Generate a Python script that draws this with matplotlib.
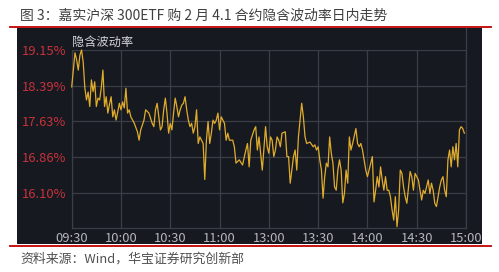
import matplotlib
matplotlib.use("Agg")
import matplotlib.pyplot as plt
from matplotlib.lines import Line2D

# ---- data ----
title_text = "图 3：嘉实沪深 300ETF 购 2 月 4.1 合约隐含波动率日内走势"
source_text = "资料来源：Wind，华宝证券研究创新部"
series_label = "隐含波动率"

tick_minutes = [0, 30, 60, 90, 120, 150, 180, 210, 240]
tick_labels = ["09:30", "10:00", "10:30", "11:00", "13:00", "13:30", "14:00", "14:30", "15:00"]
y_ticks = [19.15, 18.39, 17.63, 16.86, 16.10]

# trading minutes since 09:30 (lunch break removed)
minutes = [0, 1, 2, 3, 4, 5, 6, 7, 8, 9, 10, 11, 12, 13, 14, 15, 16, 17, 18, 19, 20,
           21, 22, 23, 24, 25, 26, 27, 28, 29, 30, 31, 32, 33, 34, 35, 36, 38, 40, 41,
           42, 44, 45,
           47, 49, 50, 51, 52, 53, 54, 55, 56, 57, 58, 59, 60, 61, 62, 63, 64, 65, 66,
           67, 68, 69, 70, 71, 72, 73, 74, 75, 76, 77, 78, 79, 80, 81, 82, 83, 84, 85,
           86, 87, 88, 89, 90, 91, 92, 93, 94, 95,
           96, 98, 99, 100, 102, 104, 106, 107, 108, 109, 111, 112, 113, 114, 115, 116,
           118, 119, 120, 121, 122, 123, 124, 125, 126, 127, 128, 130, 131, 132, 133,
           134, 135, 136, 137, 138, 139, 140, 141, 142,
           143, 145, 147, 148, 149, 150, 151, 152, 153, 154, 155, 156, 157, 158, 159,
           160, 161, 162, 163, 164, 165, 166, 167, 168, 169, 170, 171, 173, 174, 175,
           176, 177, 178, 179, 180, 181, 182, 183, 184, 185, 186, 187, 188, 189, 190,
           191, 192, 193, 194, 195, 196, 197, 198, 199, 200, 201, 202, 203, 204, 205,
           206, 207, 208, 209, 210, 211, 212, 213, 214, 215, 216, 217, 218, 219, 220,
           221, 222, 223, 224, 225, 226, 227, 228, 229, 230, 231, 232, 233, 234, 235,
           236, 237, 238, 239]

iv = [18.36, 18.72, 19.09, 18.94, 18.72, 19.04, 19.15, 18.89, 18.34, 18.08, 18.25,
      17.94, 18.51, 18.26, 18.47, 17.94, 18.12, 18.08, 18.34, 18.72, 17.94, 18.15,
      17.80, 17.99, 18.15, 17.72, 17.87, 17.65, 17.82, 18.01, 17.87, 18.04, 17.91,
      18.33, 17.80, 17.87, 17.72, 17.59, 17.40, 17.22, 17.44, 17.65, 17.87,
      17.80, 17.58, 17.51, 17.87, 18.01, 17.72, 17.44, 17.51, 17.87, 18.12, 17.80,
      17.37, 17.58, 17.44, 17.80, 18.12, 17.94, 17.72, 17.87, 17.97, 18.01, 18.15,
      17.87, 17.65, 17.51, 17.58, 17.37, 17.51, 17.87, 17.15, 17.29, 17.22, 17.15,
      16.38, 17.22, 17.62, 17.15, 17.37, 17.65, 17.58, 17.65, 17.80, 17.44, 17.72,
      17.65, 17.58, 17.22, 17.37,
      17.22, 17.22, 17.08, 16.73, 16.80, 16.69, 17.01, 17.15, 16.65, 17.22, 17.44,
      17.51, 17.01, 17.29, 16.94, 16.58, 17.51, 17.08, 16.94, 17.29, 17.22, 16.87,
      17.01, 17.29, 17.22, 17.08, 17.37, 17.40, 16.87, 16.87, 16.30, 16.58, 16.87,
      17.01, 16.58, 17.29, 17.65, 18.01, 17.72, 17.30,
      17.15, 17.18, 17.08, 17.12, 17.01, 17.08, 16.80, 16.58, 15.98, 16.44, 16.73,
      16.65, 17.29, 16.94, 16.73, 16.22, 16.15, 16.58, 16.80, 16.58, 15.88, 16.08,
      16.58, 16.30, 17.29, 17.01, 17.15, 17.47, 17.15, 17.08, 17.15, 17.01, 16.80,
      16.58, 16.44, 16.58, 16.73, 16.87, 15.90, 16.15, 16.44, 16.22, 16.65, 16.37,
      16.15,
      16.44, 16.15, 16.15, 16.01, 15.73, 15.51, 16.01, 15.37, 15.73, 16.58, 16.51,
      16.22, 16.01, 15.87, 16.22, 16.55, 16.44, 16.15, 16.51, 16.44, 16.37, 16.15,
      15.94, 16.15, 16.08, 16.22, 16.37, 16.08, 16.30, 16.15, 15.87, 15.80, 16.01,
      16.22, 16.37, 16.44, 16.15, 16.01, 16.80, 17.01, 16.65, 17.08, 16.80, 17.15,
      16.65, 17.44, 17.51, 17.47, 17.37]

# ---- figure ----
W, H = 499, 272
fig = plt.figure(figsize=(W / 100, H / 100), dpi=100)
fig.patch.set_facecolor("white")

cjk = ["Noto Sans CJK SC", "DejaVu Sans"]
panel_color = "#161920"
grid_color = "#3a3e47"

# dark panel as a background axes
bg = fig.add_axes([17 / W, 1 - 244 / H, (482 - 17) / W, (244 - 28) / H], zorder=0)
bg.set_facecolor(panel_color)
bg.set_xticks([])
bg.set_yticks([])
for s in bg.spines.values():
    s.set_visible(False)

# red rules
for yy in (26.5, 245.5):
    fig.lines.append(Line2D([10 / W, 491 / W], [1 - yy / H, 1 - yy / H],
                            transform=fig.transFigure, color="#c00000", lw=1.3,
                            zorder=5))

fig.text(20 / W, 1 - 16 / H, title_text, fontsize=10, color="#404040",
         family=cjk, va="center", ha="left")
fig.text(20 / W, 1 - 259 / H, source_text, fontsize=9.3, color="#505050",
         family=cjk, va="center", ha="left")

ax = fig.add_axes([71.7 / W, 1 - 228.3 / H, (466 - 71.7) / W, (228.3 - 50) / H],
                  zorder=2)
ax.set_facecolor(panel_color)
ax.plot(minutes, iv, color="#e0ac2c", lw=0.9, clip_on=False, zorder=3)

ax.set_xlim(0, 240)
ax.set_ylim(15.335, 19.15)
ax.set_xticks(tick_minutes)
ax.set_xticklabels(tick_labels)
ax.set_yticks(y_ticks)
ax.set_yticklabels([f"{v:.2f}%" for v in y_ticks])
ax.grid(True, color=grid_color, lw=0.9)
ax.set_axisbelow(True)
for s in ax.spines.values():
    s.set_color(grid_color)
    s.set_linewidth(0.9)
ax.spines["top"].set_visible(False)
ax.spines["right"].set_bounds(15.335, 19.15 + 22 * (19.15 - 15.335) / 178.3)
ax.spines["right"].set_clip_on(False)
ax.tick_params(axis="both", length=0)
ax.tick_params(axis="y", colors="#c8323c", labelsize=9.3, pad=4)
ax.tick_params(axis="x", colors="#b4b6ba", labelsize=9.3, pad=3)
for lab in ax.get_xticklabels() + ax.get_yticklabels():
    lab.set_family(cjk)

ax.text(0.0, 1.0 + 8 / 178.3, series_label, transform=ax.transAxes, fontsize=8.8,
        color="#d0d2d6", family=cjk, va="center", ha="left")

fig.savefig("out.png", dpi=100)
